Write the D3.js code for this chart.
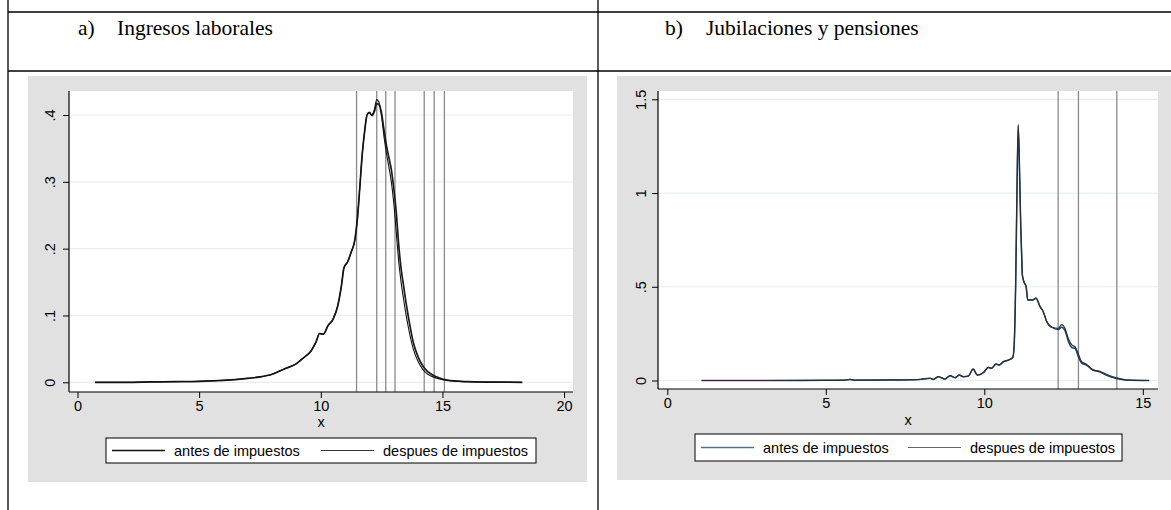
<!DOCTYPE html>
<html>
<head>
<meta charset="utf-8">
<script src="https://cdn.jsdelivr.net/npm/d3@7"></script>
<style>
  html, body { margin: 0; padding: 0; background: #fff; }
  svg { display: block; }
</style>
</head>
<body>
<svg id="chart" width="1171" height="510"></svg>
<script>
// ---- a) Ingresos laborales: kernel densities of log labour income ----
const laboralX = [0.72, 2, 3, 4, 5, 6, 7, 7.5, 8, 8.5, 9, 9.3, 9.6, 9.8, 9.95, 10.1, 10.3, 10.5, 10.7, 10.85,
  10.95, 11.1, 11.25, 11.4, 11.5, 11.6, 11.7, 11.8, 11.9, 12.0, 12.1, 12.2, 12.3, 12.4, 12.5, 12.6, 12.7, 12.8,
  12.9, 13.0, 13.1, 13.2, 13.3, 13.4, 13.5, 13.6, 13.8, 14.0, 14.2, 14.4, 14.7, 15.0, 15.5, 16, 17, 18.28];
const laboralAntes = [0, 0, 0.0005, 0.001, 0.0015, 0.003, 0.006, 0.008, 0.012, 0.020, 0.028, 0.037, 0.047, 0.060,
  0.073, 0.072, 0.085, 0.094, 0.115, 0.145, 0.171, 0.180, 0.195, 0.213, 0.243, 0.290, 0.340, 0.375, 0.400, 0.404,
  0.399, 0.405, 0.417, 0.415, 0.402, 0.377, 0.354, 0.336, 0.318, 0.290, 0.255, 0.207, 0.170, 0.145, 0.120, 0.098,
  0.060, 0.038, 0.024, 0.016, 0.009, 0.005, 0.002, 0.001, 0.0003, 0];
const laboralDespues = [0, 0, 0.0005, 0.001, 0.0015, 0.003, 0.006, 0.008, 0.012, 0.020, 0.028, 0.037, 0.047, 0.060,
  0.073, 0.072, 0.085, 0.094, 0.115, 0.145, 0.171, 0.180, 0.195, 0.213, 0.243, 0.290, 0.340, 0.375, 0.400, 0.404,
  0.400, 0.408, 0.423, 0.418, 0.397, 0.367, 0.342, 0.322, 0.300, 0.268, 0.225, 0.182, 0.150, 0.125, 0.102, 0.082,
  0.050, 0.031, 0.019, 0.012, 0.007, 0.004, 0.0015, 0.0008, 0.0002, 0];
const laboralLines = [11.47, 12.30, 12.67, 13.05, 14.25, 14.66, 15.08];
const laboralXTicks = [0, 5, 10, 15, 20];
const laboralYTicks = [0, 0.1, 0.2, 0.3, 0.4];

// ---- b) Jubilaciones y pensiones ----
const pensionX = [1.08, 3, 5, 5.6, 5.76, 5.9, 7, 7.76, 8.0, 8.29, 8.39, 8.55, 8.76, 8.92, 9.08, 9.21, 9.34, 9.50,
  9.65, 9.78, 9.97, 10.13, 10.23, 10.37, 10.47, 10.6, 10.76, 10.9, 10.94, 10.99, 11.03, 11.07, 11.12, 11.15, 11.18,
  11.2, 11.25, 11.32, 11.37, 11.53, 11.63, 11.76, 11.86, 11.97, 12.13, 12.33, 12.44, 12.55, 12.65, 12.76, 12.86,
  12.97, 13.07, 13.23, 13.42, 13.65, 13.86, 14.18, 14.49, 15.2];
const pensionAntes = [0, 0, 0.001, 0.002, 0.006, 0.002, 0.003, 0.004, 0.006, 0.012, 0.006, 0.020, 0.008, 0.026,
  0.015, 0.029, 0.020, 0.024, 0.061, 0.029, 0.042, 0.070, 0.065, 0.088, 0.083, 0.100, 0.109, 0.124, 0.180, 0.520,
  1.000, 1.358, 1.050, 0.820, 0.660, 0.563, 0.527, 0.500, 0.430, 0.430, 0.439, 0.394, 0.367, 0.314, 0.284, 0.272,
  0.284, 0.265, 0.210, 0.176, 0.172, 0.126, 0.092, 0.081, 0.056, 0.048, 0.031, 0.013, 0.003, 0];
const pensionDespues = [0, 0, 0.001, 0.002, 0.006, 0.002, 0.003, 0.004, 0.006, 0.012, 0.006, 0.020, 0.008, 0.026,
  0.015, 0.029, 0.020, 0.024, 0.061, 0.029, 0.042, 0.070, 0.065, 0.088, 0.083, 0.100, 0.109, 0.124, 0.180, 0.520,
  1.000, 1.367, 1.060, 0.825, 0.665, 0.565, 0.527, 0.500, 0.430, 0.430, 0.439, 0.394, 0.367, 0.314, 0.284, 0.278,
  0.298, 0.276, 0.224, 0.190, 0.180, 0.140, 0.100, 0.086, 0.058, 0.045, 0.027, 0.010, 0.002, 0];
const pensionLines = [12.33, 12.97, 14.18];
const pensionXTicks = [0, 5, 10, 15];
const pensionYTicks = [0, 0.5, 1, 1.5];

const seriesNames = ["antes de impuestos", "despues de impuestos"];

const svg = d3.select("#chart");
const sans = '"Liberation Sans", Arial, sans-serif';
const serif = '"Liberation Serif", "Times New Roman", serif';

// Stata-style tick labels: no leading zero
const stataFmt = d => d === 0 ? "0" : String(d).replace(/^0\./, ".");

// ---- table frame ----
const frame = svg.append("g").attr("stroke", "#000").attr("stroke-width", 1.3);
frame.append("line").attr("x1", 8).attr("x2", 8).attr("y1", 0).attr("y2", 510);
frame.append("line").attr("x1", 598).attr("x2", 598).attr("y1", 0).attr("y2", 510);
frame.append("line").attr("x1", 8).attr("x2", 1171).attr("y1", 12).attr("y2", 12);
frame.append("line").attr("x1", 8).attr("x2", 1171).attr("y1", 71).attr("y2", 71);

function title(x1, x2, label, text) {
  const g = svg.append("g").style("font-family", serif).style("font-size", "21.5px").attr("fill", "#000");
  g.append("text").attr("x", x1).attr("y", 35).text(label);
  g.append("text").attr("x", x2).attr("y", 35).text(text);
}
title(78, 117, "a)", "Ingresos laborales");
title(665, 706, "b)", "Jubilaciones y pensiones");

function panel(cfg) {
  const g = svg.append("g");
  // graph region
  g.append("rect").attr("x", cfg.bg[0]).attr("y", cfg.bg[1])
    .attr("width", cfg.bg[2] - cfg.bg[0]).attr("height", cfg.bg[3] - cfg.bg[1])
    .attr("fill", "#e1e1e1");
  // plot region
  const [px0, py0, px1, py1] = cfg.plot;
  g.append("rect").attr("x", px0).attr("y", py0).attr("width", px1 - px0).attr("height", py1 - py0)
    .attr("fill", "#fff");

  const x = d3.scaleLinear().domain(cfg.xDomain).range(cfg.xRange);
  const y = d3.scaleLinear().domain(cfg.yDomain).range(cfg.yRange);

  // horizontal gridlines
  g.append("g").selectAll("line").data(cfg.yTicks).join("line")
    .attr("x1", px0).attr("x2", px1).attr("y1", d => y(d)).attr("y2", d => y(d))
    .attr("stroke", "#e6efef").attr("stroke-width", 1.2);

  // reference lines
  g.append("g").selectAll("line").data(cfg.vlines).join("line")
    .attr("x1", d => x(d)).attr("x2", d => x(d)).attr("y1", py0).attr("y2", py1)
    .attr("stroke", "#8a8a8a").attr("stroke-width", 1.3);

  // density curves
  const xs = cfg.xs;
  const line = d3.line().x((d, i) => x(xs[i])).y(d => y(d)).curve(d3.curveMonotoneX);
  g.append("path").datum(cfg.a).attr("d", line).attr("fill", "none")
    .attr("stroke", cfg.colA).attr("stroke-width", cfg.wA).attr("stroke-linejoin", "round");
  g.append("path").datum(cfg.b).attr("d", line).attr("fill", "none")
    .attr("stroke", cfg.colB).attr("stroke-width", cfg.wB).attr("stroke-linejoin", "round");

  // y axis
  const ya = g.append("g").attr("transform", `translate(${px0},0)`)
    .call(d3.axisLeft(y).tickValues(cfg.yTicks).tickSize(6).tickPadding(0).tickFormat(stataFmt));
  ya.select(".domain").remove();
  ya.selectAll(".tick line").attr("stroke", "#000");
  ya.selectAll(".tick text")
    .attr("x", 0).attr("dy", null)
    .attr("transform", `translate(${cfg.yLabelX - px0},0) rotate(-90)`)
    .attr("text-anchor", "middle").attr("dominant-baseline", "central")
    .style("font-family", sans).style("font-size", "14.5px").attr("fill", "#000");
  g.append("line").attr("x1", px0).attr("x2", px0).attr("y1", py0).attr("y2", py1)
    .attr("stroke", "#000").attr("stroke-width", 1.2);

  // x axis
  const xa = g.append("g").attr("transform", `translate(0,${py1})`)
    .call(d3.axisBottom(x).tickValues(cfg.xTicks).tickSize(6).tickPadding(3).tickFormat(stataFmt));
  xa.select(".domain").remove();
  xa.selectAll(".tick line").attr("stroke", "#000");
  xa.selectAll(".tick text").style("font-family", sans).style("font-size", "14.5px").attr("fill", "#000");
  g.append("line").attr("x1", px0).attr("x2", px1).attr("y1", py1).attr("y2", py1)
    .attr("stroke", "#000").attr("stroke-width", 1.2);
  g.append("text").attr("x", (px0 + px1) / 2).attr("y", cfg.xTitleY)
    .attr("text-anchor", "middle").style("font-family", sans).style("font-size", "14.5px").text("x");

  // legend
  const [lx0, ly0, lx1, ly1] = cfg.legend;
  const lg = g.append("g");
  lg.append("rect").attr("x", lx0).attr("y", ly0).attr("width", lx1 - lx0).attr("height", ly1 - ly0)
    .attr("fill", "#fff").attr("stroke", "#000").attr("stroke-width", 1);
  const ly = (ly0 + ly1) / 2;
  const keys = [
    { name: seriesNames[0], col: cfg.legColA, w: cfg.wA, x0: cfg.keyX[0] },
    { name: seriesNames[1], col: cfg.legColB, w: cfg.wB, x0: cfg.keyX[1] }
  ];
  keys.forEach(k => {
    lg.append("line").attr("x1", k.x0).attr("x2", k.x0 + 53).attr("y1", ly).attr("y2", ly)
      .attr("stroke", k.col).attr("stroke-width", k.w);
    lg.append("text").attr("x", k.x0 + 62).attr("y", ly).attr("dominant-baseline", "central")
      .style("font-family", sans).style("font-size", "14.5px").attr("fill", "#000").text(k.name);
  });
}

panel({
  bg: [28, 76, 587, 482], plot: [69, 91, 573, 392],
  xDomain: [0, 20], xRange: [77.5, 564.1], yDomain: [0, 0.4], yRange: [382.3, 115],
  xTicks: laboralXTicks, yTicks: laboralYTicks, vlines: laboralLines,
  xs: laboralX, a: laboralAntes, b: laboralDespues,
  colA: "#1c1c1c", wA: 1.7, colB: "#111", wB: 1.1, legColA: "#111", legColB: "#333",
  yLabelX: 50, xTitleY: 427, legend: [106, 438, 536, 463], keyX: [112, 321]
});

panel({
  bg: [617, 76, 1171, 480], plot: [658, 91, 1158, 389],
  xDomain: [0, 15], xRange: [667.3, 1142.8], yDomain: [0, 1.5], yRange: [380.5, 99.3],
  xTicks: pensionXTicks, yTicks: pensionYTicks, vlines: pensionLines,
  xs: pensionX, a: pensionAntes, b: pensionDespues,
  colA: "#1a476f", wA: 1.5, colB: "#2b2f33", wB: 1.2, legColA: "#55728f", legColB: "#666",
  yLabelX: 641, xTitleY: 425, legend: [695, 434, 1122, 461], keyX: [701, 908]
});
</script>
</body>
</html>
